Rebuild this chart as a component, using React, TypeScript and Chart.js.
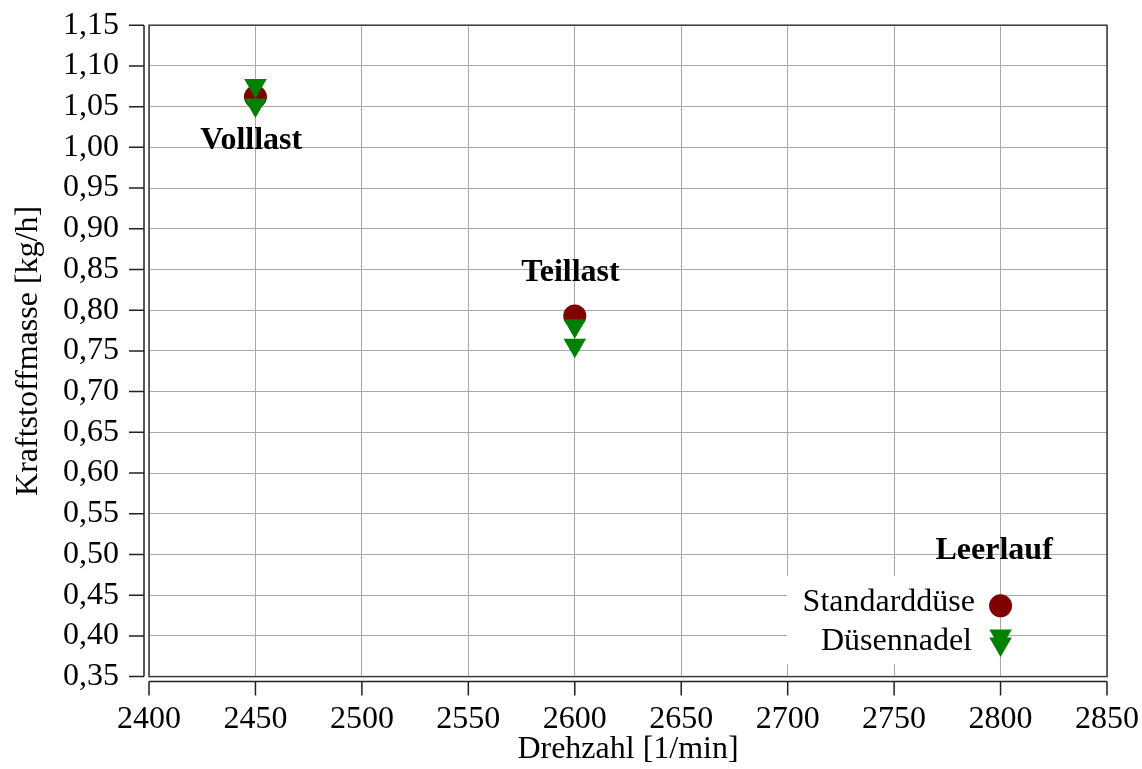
import React, { useEffect, useRef } from "react";
import { Chart, registerables } from "chart.js";

Chart.register(...registerables);

const xStandard = [2450, 2600, 2800];
const yStandard = [1.062, 0.793, 0.437];
const xNadel = [2450, 2450, 2600, 2600, 2800, 2800];
const yNadel = [1.076, 1.052, 0.781, 0.757, 0.4, 0.39];

const seriesNames = ["Standarddüse", "Düsennadel"];
const annLabels = ["Volllast", "Teillast", "Leerlauf"];
const annX = [2448, 2598, 2797];
const annY = [1.008, 0.846, 0.505];

const xTitle = "Drehzahl [1/min]";
const yTitle = "Kraftstoffmasse [kg/h]";

const FONT = "'Liberation Serif', 'Times New Roman', serif";
const FS = 32;
const RED = "#800000";
const GREEN = "#008000";

const OFF_Y = -24; // container offset so the plot area sits as in the reference

const decorPlugin = {
  id: "decor",
  beforeDatasetsDraw(chart: any) {
    const { ctx, scales } = chart;
    const xs = scales.x, ys = scales.y;
    ctx.save();
    // legend box
    ctx.fillStyle = "#ffffff";
    ctx.fillRect(787, 576 - OFF_Y, 210, 88);
    ctx.fillStyle = "#000";
    ctx.font = `${FS}px ${FONT}`;
    ctx.textAlign = "right";
    ctx.textBaseline = "middle";
    ctx.fillText(seriesNames[0], 975, 603 - OFF_Y);
    ctx.fillText(seriesNames[1], 972, 642 - OFF_Y);
    // annotations
    ctx.font = `bold ${FS}px ${FONT}`;
    ctx.textAlign = "center";
    for (let i = 0; i < annLabels.length; i++) {
      ctx.fillText(annLabels[i], xs.getPixelForValue(annX[i]), ys.getPixelForValue(annY[i]));
    }
    ctx.restore();
  },
  afterDraw(chart: any) {
    const { ctx, chartArea: a, scales } = chart;
    const xs = scales.x, ys = scales.y;
    ctx.save();
    ctx.strokeStyle = "#3a3a3a";
    ctx.lineWidth = 1.5;
    ctx.strokeRect(a.left, a.top, a.right - a.left, a.bottom - a.top);
    ctx.strokeStyle = "#222";
    ctx.lineWidth = 1.5;
    const ax = a.left - 5;
    const ay = a.bottom + 5;
    ctx.beginPath();
    ctx.moveTo(ax, a.top);
    ctx.lineTo(ax, a.bottom);
    ys.ticks.forEach((t: any) => {
      const p = ys.getPixelForValue(t.value);
      ctx.moveTo(ax - 15, p);
      ctx.lineTo(ax, p);
    });
    ctx.moveTo(a.left, ay);
    ctx.lineTo(a.right, ay);
    xs.ticks.forEach((t: any) => {
      const p = xs.getPixelForValue(t.value);
      ctx.moveTo(p, ay);
      ctx.lineTo(p, ay + 14);
    });
    ctx.stroke();
    // axis titles
    ctx.fillStyle = "#000";
    ctx.font = `${FS}px ${FONT}`;
    ctx.textAlign = "center";
    ctx.textBaseline = "middle";
    ctx.fillText(xTitle, (a.left + a.right) / 2, 750 - OFF_Y);
    ctx.translate(29, (a.top + a.bottom) / 2);
    ctx.rotate(-Math.PI / 2);
    ctx.fillText(yTitle, 0, 0);
    ctx.restore();
  },
};

export default function App() {
  const ref = useRef<HTMLCanvasElement>(null);
  useEffect(() => {
    if (!ref.current) return;
    const chart = new Chart(ref.current, {
      type: "scatter",
      data: {
        datasets: [
          {
            label: seriesNames[1],
            data: xNadel.map((x, i) => ({ x, y: yNadel[i] })),
            pointStyle: "triangle",
            rotation: 180,
            radius: 13,
            backgroundColor: GREEN,
            borderColor: GREEN,
            borderWidth: 0,
            order: 0,
          },
          {
            label: seriesNames[0],
            data: xStandard.map((x, i) => ({ x, y: yStandard[i] })),
            pointStyle: "circle",
            radius: 11.5,
            backgroundColor: RED,
            borderColor: RED,
            borderWidth: 0,
            order: 1,
          },
        ],
      },
      plugins: [decorPlugin],
      options: {
        animation: false,
        responsive: true,
        maintainAspectRatio: false,
        layout: { padding: { top: 5, right: 3, left: 33, bottom: 31 } },
        plugins: {
          legend: { display: false },
          tooltip: { enabled: false },
        },
        scales: {
          x: {
            type: "linear",
            min: 2400,
            max: 2850,
            border: { display: false },
            grid: { color: "#a8a8a8", lineWidth: 1, drawTicks: false },
            ticks: {
              stepSize: 50,
              padding: 24,
              color: "#000",
              autoSkip: false,
              font: { family: FONT, size: FS },
              maxRotation: 0,
              callback: (v: any) => String(v),
            },
          },
          y: {
            type: "linear",
            min: 0.35,
            max: 1.15,
            border: { display: false },
            grid: { color: "#a8a8a8", lineWidth: 1, drawTicks: false },
            ticks: {
              stepSize: 0.05,
              padding: 30,
              color: "#000",
              autoSkip: false,
              font: { family: FONT, size: FS },
              callback: (v: any) => Number(v).toFixed(2).replace(".", ","),
            },
          },
        },
      },
    });
    return () => chart.destroy();
  }, []);
  return (
    <div style={{ position: "fixed", left: 0, top: OFF_Y, width: 1163, height: 818, background: "#fff" }}>
      <canvas ref={ref} />
    </div>
  );
}
